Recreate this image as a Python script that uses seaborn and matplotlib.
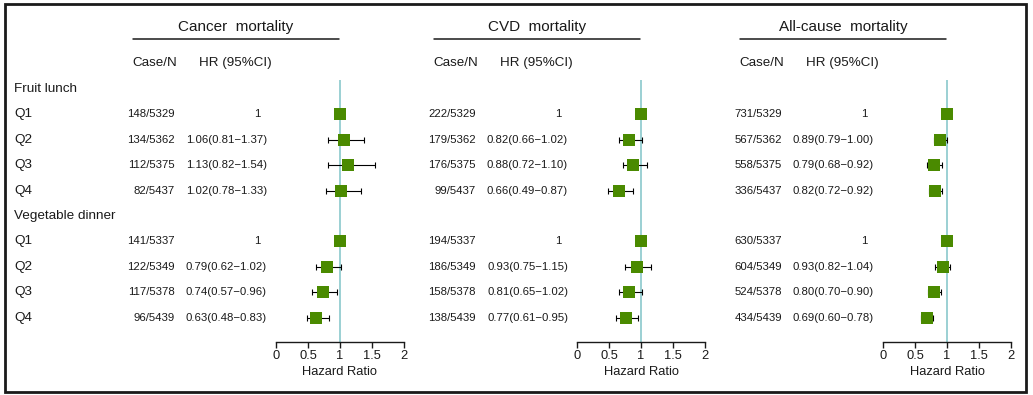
import numpy as np
import pandas as pd
import seaborn as sns
import matplotlib.pyplot as plt
from matplotlib.patches import Rectangle

# Row layout of the forest plot (group headers + quartiles)
row_labels = ['Fruit lunch', 'Q1', 'Q2', 'Q3', 'Q4',
              'Vegetable dinner', 'Q1', 'Q2', 'Q3', 'Q4']
quartile_rows = [1, 2, 3, 4, 6, 7, 8, 9]

titles = ['Cancer  mortality', 'CVD  mortality', 'All-cause  mortality']

# Cancer mortality
cancer_case = ['148/5329', '134/5362', '112/5375', '82/5437',
               '141/5337', '122/5349', '117/5378', '96/5439']
cancer_hr = [1, 1.06, 1.13, 1.02, 1, 0.79, 0.74, 0.63]
cancer_lo = [np.nan, 0.81, 0.82, 0.78, np.nan, 0.62, 0.57, 0.48]
cancer_hi = [np.nan, 1.37, 1.54, 1.33, np.nan, 1.02, 0.96, 0.83]

# CVD mortality
cvd_case = ['222/5329', '179/5362', '176/5375', '99/5437',
            '194/5337', '186/5349', '158/5378', '138/5439']
cvd_hr = [1, 0.82, 0.88, 0.66, 1, 0.93, 0.81, 0.77]
cvd_lo = [np.nan, 0.66, 0.72, 0.49, np.nan, 0.75, 0.65, 0.61]
cvd_hi = [np.nan, 1.02, 1.10, 0.87, np.nan, 1.15, 1.02, 0.95]

# All-cause mortality
all_case = ['731/5329', '567/5362', '558/5375', '336/5437',
            '630/5337', '604/5349', '524/5378', '434/5439']
all_hr = [1, 0.89, 0.79, 0.82, 1, 0.93, 0.80, 0.69]
all_lo = [np.nan, 0.79, 0.68, 0.72, np.nan, 0.82, 0.70, 0.60]
all_hi = [np.nan, 1.00, 0.92, 0.92, np.nan, 1.04, 0.90, 0.78]

x_ticks = [0, 0.5, 1, 1.5, 2]
x_ticklabels = ['0', '0.5', '1', '1.5', '2']

panels = [
    (cancer_case, cancer_hr, cancer_lo, cancer_hi),
    (cvd_case, cvd_hr, cvd_lo, cvd_hi),
    (all_case, all_hr, all_lo, all_hi),
]

sns.set_theme(style='white')
plt.rcParams['font.family'] = ['Liberation Sans', 'DejaVu Sans']
txt_col = '#1a1a1a'
green = '#4a8a00'
ref_col = '#80c4c8'

W, H = 1033, 395
fig = plt.figure(figsize=(W / 100, H / 100), dpi=100)

# background axes in pixel units for the table text
bg = fig.add_axes([0, 0, 1, 1])
bg.set_xlim(0, W)
bg.set_ylim(H, 0)
bg.axis('off')
bg.add_patch(Rectangle((4.5, 3.8), 1021.5, 388.2, fill=False,
                       lw=2.0, ec='#1a1a1a'))

row_y0, row_step = 89, 25.4
axis_left = [276, 577, 883]
axis_w = 128
axis_top, axis_bot = 80, 342

# row labels (left column)
for r, lab in enumerate(row_labels):
    bg.text(14, row_y0 + r * row_step, lab, fontsize=9.7, color=txt_col,
            ha='left', va='center')

for i, (case, hr, lo, hi) in enumerate(panels):
    x0 = axis_left[i]
    # title + underline
    bg.text(x0 - 40, 27, titles[i], fontsize=11, color=txt_col,
            ha='center', va='center')
    bg.plot([x0 - 143, x0 + 63], [39, 39], color=txt_col, lw=1.1)
    bg.text(x0 - 144, 63, 'Case/N', fontsize=9.6, color=txt_col,
            ha='left', va='center')
    bg.text(x0 - 77, 63, 'HR (95%CI)', fontsize=9.6, color=txt_col,
            ha='left', va='center')

    df = pd.DataFrame({'row': quartile_rows, 'case': case,
                       'hr': hr, 'lo': lo, 'hi': hi})
    for _, d in df.iterrows():
        y = row_y0 + d['row'] * row_step
        bg.text(x0 - 101, y, d['case'], fontsize=8.2, color=txt_col,
                ha='right', va='center')
        if np.isnan(d['lo']):
            bg.text(x0 - 16, y, '1', fontsize=8.2, color=txt_col,
                    ha='right', va='center')
        else:
            s = f"{d['hr']:.2f}({d['lo']:.2f}\u2212{d['hi']:.2f})"
            bg.text(x0 - 9, y, s, fontsize=8.2, color=txt_col,
                    ha='right', va='center')

    # forest axes
    ax = fig.add_axes([x0 / W, (H - axis_bot) / H, axis_w / W,
                       (axis_bot - axis_top) / H])
    ax.patch.set_alpha(0)
    ax.axvline(1, color=ref_col, lw=1.1, zorder=1)
    ci = df.dropna()
    ax.errorbar(ci['hr'], ci['row'],
                xerr=[ci['hr'] - ci['lo'], ci['hi'] - ci['hr']],
                fmt='none', ecolor='black', elinewidth=0.8,
                capsize=2.2, capthick=0.8, zorder=2)
    sns.scatterplot(data=df, x='hr', y='row', marker='s', s=66,
                    color=green, linewidth=0, ax=ax, zorder=3, legend=False)
    ax.set_xlim(0, 2)
    ax.set_ylim((axis_bot - row_y0) / row_step, (axis_top - row_y0) / row_step)
    sns.despine(ax=ax, left=True)
    ax.spines['bottom'].set_color(txt_col)
    ax.spines['bottom'].set_linewidth(1.0)
    ax.set_yticks([])
    ax.set_xticks(x_ticks)
    ax.set_xticklabels(x_ticklabels)
    ax.tick_params(axis='x', bottom=True, length=4, width=1.0, pad=1.5,
                   labelsize=9.3, colors=txt_col)
    ax.set_ylabel('')
    ax.set_xlabel('Hazard Ratio', fontsize=9.3, color=txt_col, labelpad=3)

fig.savefig('out.png', dpi=100)
